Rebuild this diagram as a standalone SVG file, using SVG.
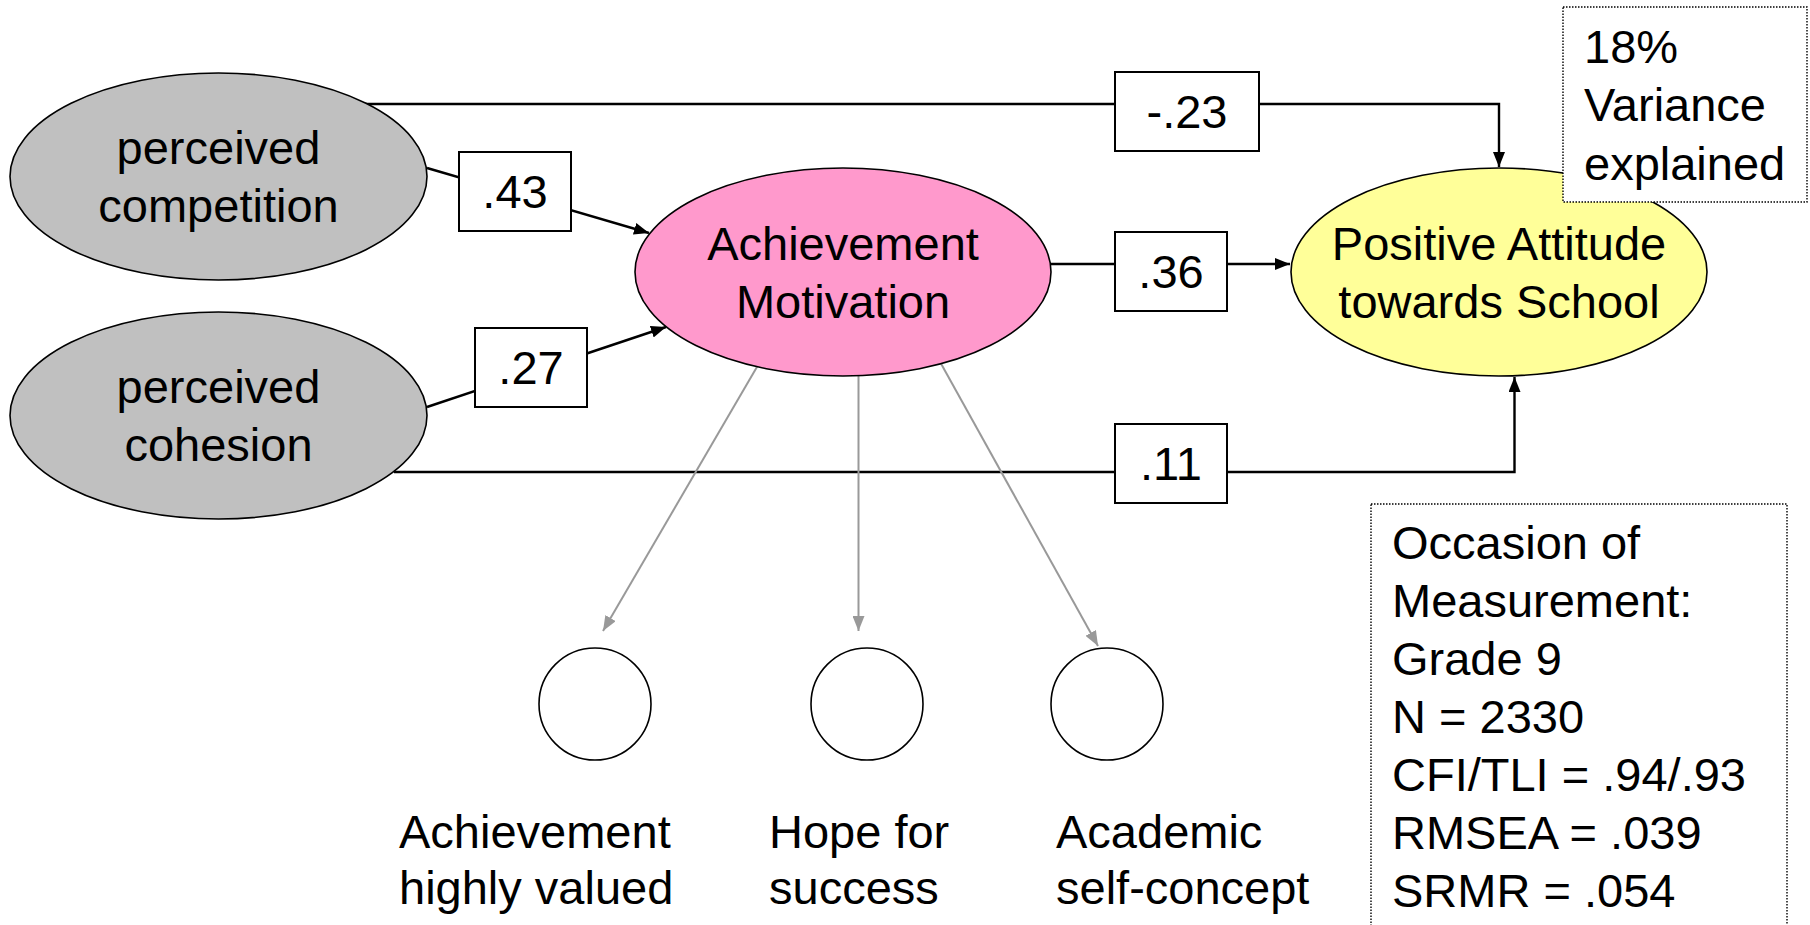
<svg xmlns="http://www.w3.org/2000/svg" width="1810" height="925" viewBox="0 0 1810 925">
  <defs>
    <marker id="arrowBlack" markerUnits="userSpaceOnUse" markerWidth="16" markerHeight="12" refX="15" refY="6" orient="auto">
      <path d="M0,0 L15,6 L0,12 Z" fill="#000"/>
    </marker>
    <marker id="arrowGray" markerUnits="userSpaceOnUse" markerWidth="16" markerHeight="12" refX="15" refY="6" orient="auto">
      <path d="M0,0 L15,6 L0,12 Z" fill="#999"/>
    </marker>
    <style>
      .lbl { font-family: "Liberation Sans", Arial, sans-serif; font-size: 47px; fill: #000; }
      .mid { text-anchor: middle; }
      .node { stroke: #000; stroke-width: 1.6; }
      .coef { fill: #fff; stroke: #000; stroke-width: 2; }
      .path { fill: none; stroke: #000; stroke-width: 2.4; }
      .load { fill: none; stroke: #999; stroke-width: 2; marker-end: url(#arrowGray); }
      .note { fill: #fff; stroke: #000; stroke-width: 1.4; stroke-dasharray: 1.5 1.5; }
    </style>
  </defs>

  <rect width="1810" height="925" fill="#fff"/>

  <!-- structural paths and loadings -->
  <g id="connectors">
    <!-- competition -> attitude (-.23) -->
    <polyline class="path" points="365,104 1499,104 1499,167" marker-end="url(#arrowBlack)"/>
    <!-- competition -> motivation (.43) -->
    <line class="path" x1="427" y1="168" x2="649" y2="233" marker-end="url(#arrowBlack)"/>
    <!-- cohesion -> motivation (.27) -->
    <line class="path" x1="427" y1="407" x2="666" y2="327" marker-end="url(#arrowBlack)"/>
    <!-- motivation -> attitude (.36) -->
    <line class="path" x1="1051" y1="264" x2="1290" y2="264" marker-end="url(#arrowBlack)"/>
    <!-- cohesion -> attitude (.11) -->
    <polyline class="path" points="394,472 1514.5,472 1514.5,377" marker-end="url(#arrowBlack)"/>
    <!-- loadings onto indicators -->
    <line class="load" x1="761" y1="360" x2="603" y2="631"/>
    <line class="load" x1="858.5" y1="376" x2="858.5" y2="631"/>
    <line class="load" x1="939" y1="360" x2="1098" y2="646"/>
  </g>

  <!-- coefficient labels -->
  <g id="coef-m23">
    <rect class="coef" x="1115" y="72" width="144" height="79"/>
    <text class="lbl mid" x="1187" y="128">-.23</text>
  </g>
  <g id="coef-43">
    <rect class="coef" x="459" y="152" width="112" height="79"/>
    <text class="lbl mid" x="515" y="208">.43</text>
  </g>
  <g id="coef-27">
    <rect class="coef" x="475" y="328" width="112" height="79"/>
    <text class="lbl mid" x="531" y="384">.27</text>
  </g>
  <g id="coef-36">
    <rect class="coef" x="1115" y="232" width="112" height="79"/>
    <text class="lbl mid" x="1171" y="288">.36</text>
  </g>
  <g id="coef-11">
    <rect class="coef" x="1115" y="424" width="112" height="79"/>
    <text class="lbl mid" x="1171" y="480">.11</text>
  </g>

  <!-- latent predictors -->
  <g id="node-competition">
    <ellipse class="node" cx="218.5" cy="176.5" rx="208.5" ry="103.5" fill="#c0c0c0"/>
    <text class="lbl mid" x="218.5" y="164">perceived</text>
    <text class="lbl mid" x="218.5" y="222">competition</text>
  </g>
  <g id="node-cohesion">
    <ellipse class="node" cx="218.5" cy="415.5" rx="208.5" ry="103.5" fill="#c0c0c0"/>
    <text class="lbl mid" x="218.5" y="403">perceived</text>
    <text class="lbl mid" x="218.5" y="461">cohesion</text>
  </g>

  <!-- mediator -->
  <g id="node-motivation">
    <ellipse class="node" cx="843" cy="272" rx="208" ry="104" fill="#ff99cc"/>
    <text class="lbl mid" x="843" y="260">Achievement</text>
    <text class="lbl mid" x="843" y="318">Motivation</text>
  </g>

  <!-- outcome -->
  <g id="node-attitude">
    <ellipse class="node" cx="1499" cy="272" rx="208" ry="104" fill="#ffff99"/>
    <text class="lbl mid" x="1499" y="260">Positive Attitude</text>
    <text class="lbl mid" x="1499" y="318">towards School</text>
  </g>

  <!-- indicators -->
  <g id="node-valued">
    <ellipse class="node" cx="595" cy="704" rx="56" ry="56" fill="#fff"/>
    <text class="lbl" x="399" y="848">Achievement</text>
    <text class="lbl" x="399" y="904">highly valued</text>
  </g>
  <g id="node-hope">
    <ellipse class="node" cx="867" cy="704" rx="56" ry="56" fill="#fff"/>
    <text class="lbl" x="769" y="848">Hope for</text>
    <text class="lbl" x="769" y="904">success</text>
  </g>
  <g id="node-selfconcept">
    <ellipse class="node" cx="1107" cy="704" rx="56" ry="56" fill="#fff"/>
    <text class="lbl" x="1056" y="848">Academic</text>
    <text class="lbl" x="1056" y="904">self-concept</text>
  </g>

  <!-- notes -->
  <g id="note-variance">
    <rect class="note" x="1563" y="7" width="244" height="195"/>
    <text class="lbl" x="1584" y="63">18%</text>
    <text class="lbl" x="1584" y="121">Variance</text>
    <text class="lbl" x="1584" y="180">explained</text>
  </g>
  <g id="note-fit">
    <rect class="note" x="1371" y="504" width="416" height="440"/>
    <text class="lbl" x="1392" y="559">Occasion of</text>
    <text class="lbl" x="1392" y="617">Measurement:</text>
    <text class="lbl" x="1392" y="675">Grade 9</text>
    <text class="lbl" x="1392" y="733">N = 2330</text>
    <text class="lbl" x="1392" y="791">CFI/TLI = .94/.93</text>
    <text class="lbl" x="1392" y="849">RMSEA = .039</text>
    <text class="lbl" x="1392" y="907">SRMR = .054</text>
  </g>
</svg>
